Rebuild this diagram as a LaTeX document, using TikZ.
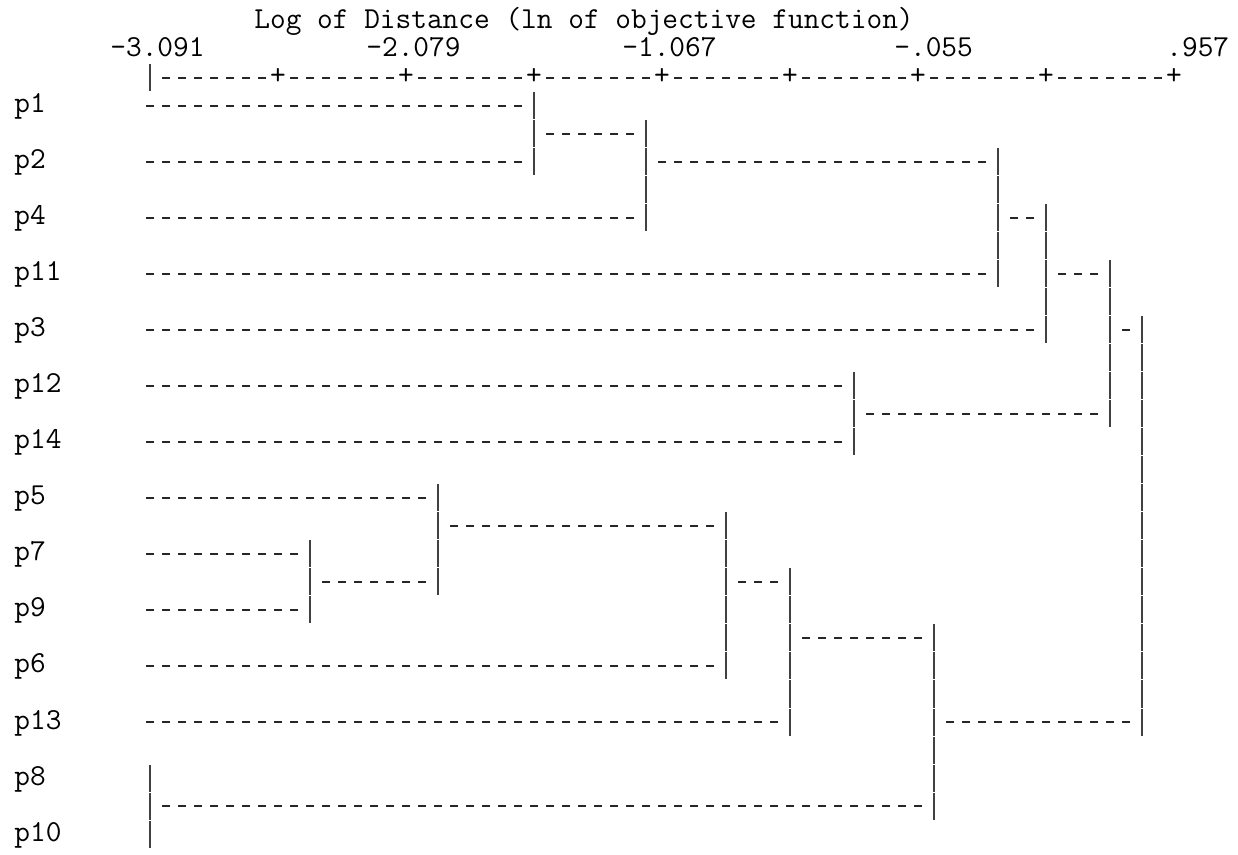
\documentclass[tikz,border=0pt]{standalone}

\begin{document}
\begin{tikzpicture}[x=8pt, y=-14pt,
  txt/.style={font=\ttfamily\fontsize{15.24pt}{14pt}\selectfont, anchor=base west, inner sep=0pt},
  dashes/.style={line width=0.9pt, black!85, dash pattern=on 4pt off 4pt},
  leafline/.style={dashes, shorten >=6pt},
  linkline/.style={dashes, shorten <=6pt, shorten >=6pt},
  bar/.style={line width=1pt, black!75, dash pattern=on 13.5pt off 0.5pt, shorten <=-6.75pt, shorten >=-6.75pt}]
  \useasboundingbox (-1.375,-0.7857) rectangle (76,29.75);
  % Title and scale values
  \node[txt] (title) at (14.5,0.25) {Log of Distance (ln of objective function)};
  \foreach \v/\col [count=\i] in {-3.091/6, -2.079/22, -1.067/38, -.055/55, .957/72}
    \node[txt] (v\i) at (\col-0.5,1.25) {\v};
  % Axis
  \coordinate (a0) at (8,2);
  \draw[bar, shorten <=0pt, shorten >=0pt] (8,1.518) -- (8,2.482);
  \foreach \k [remember=\k as \j (initially 0)] in {1,...,8} {
    \coordinate (a\k) at (8+8*\k,2);
    \node[txt, anchor=base] (t\k) at ([yshift=-3.5pt]a\k) {+};
    \draw[linkline] (a\j) -- (a\k);
  }
  % Leaves
  \foreach \lbl/\row in {p1/3, p2/5, p4/7, p11/9, p3/11, p12/13, p14/15,
                         p5/17, p7/19, p9/21, p6/23, p13/25, p8/27, p10/29} {
    \node[txt] (\lbl) at (-0.5,\row+0.25) {\lbl};
    \coordinate (\lbl s) at (7.75,\row);
  }
  % Joins: name/column/output line
  \foreach \ja/\col/\row in {j1/32/4, j2/39/5, j3/61/7, j4/64/9, j5/52/14, j6/68/11,
                             j7/18/20, j8/26/18, j9/44/20, j10/48/22, j11/8/28, j12/57/25, j13/70/18}
    \coordinate (\ja) at (\col,\row);
  % Vertical strokes: join/top child/bottom child
  \foreach \ja/\tp/\bt in {j1/p1s/p2s, j2/j1/p4s, j3/j2/p11s, j4/j3/p3s, j5/p12s/p14s,
                           j6/j4/j5, j7/p7s/p9s, j8/p5s/j7, j9/j8/p6s, j10/j9/p13s,
                           j11/p8s/p10s, j12/j10/j11, j13/j6/j12}
    \draw[bar] (\tp -| \ja) -- (\bt -| \ja);
  % Runs to the parent join
  \foreach \a/\b in {p1s/j1, p2s/j1, p4s/j2, p11s/j3, p3s/j4, p12s/j5, p14s/j5,
                     p5s/j8, p7s/j7, p9s/j7, p6s/j9, p13s/j10}
    \draw[leafline] (\a) -- (\a -| \b);
  \foreach \a/\b in {j1/j2, j2/j3, j3/j4, j4/j6, j5/j6, j6/j13,
                     j7/j8, j8/j9, j9/j10, j10/j12, j11/j12, j12/j13}
    \draw[linkline] (\a) -- (\a -| \b);
\end{tikzpicture}
\end{document}
